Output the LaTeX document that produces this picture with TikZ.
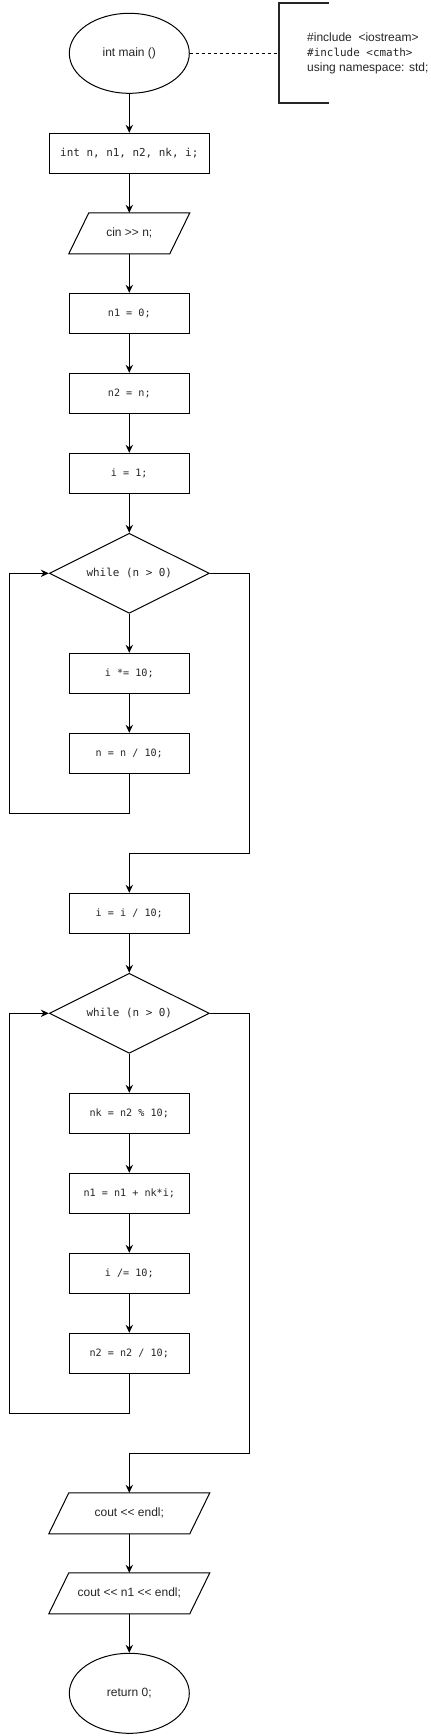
\documentclass[tikz,border=0pt]{standalone}
\usepackage{fontspec}
\setmainfont{Liberation Sans}
\newfontfamily\codefont{DejaVu Sans Mono}
\usetikzlibrary{shapes.geometric,arrows.meta}
\begin{document}
\begin{tikzpicture}[x=0.75pt,y=-0.75pt,
  line width=0.75pt,
  txtcol/.style={text=black!85},
  proc/.style={draw, rectangle, minimum width=90pt, minimum height=30pt, inner sep=0pt, txtcol, font=\codefont\fontsize{7.6}{9}\selectfont},
  wideproc/.style={proc, minimum width=120pt, font=\codefont\fontsize{8.2}{10}\selectfont},
  term/.style={draw, ellipse, minimum width=90pt, minimum height=60pt, inner sep=0pt, txtcol, font=\fontsize{9}{11}\selectfont},
  decis/.style={draw, diamond, aspect=2, minimum width=120pt, minimum height=60pt, inner sep=0pt, txtcol, font=\codefont\fontsize{8.2}{10}\selectfont},
  iobox/.style={rectangle, minimum width=90pt, minimum height=30pt, inner sep=0pt, txtcol, font=\fontsize{9}{11}\selectfont},
  wideio/.style={iobox, minimum width=120pt},
  arr/.style={-{Stealth[length=6pt,width=5.5pt,inset=2pt]}},
]
\useasboundingbox (0,0) rectangle (431,1736);

% start and declarations
\node[term] (main) at (129.3,53.3) {int main ()};
\node[wideproc] (decl) at (129.3,153.3) {int n, n1, n2, nk, i;};
\node[iobox] (cin) at (129.3,233.3) {cin >{}> n;};
\draw ([xshift=15pt]cin.north west) -- (cin.north east) -- ([xshift=-15pt]cin.south east) -- (cin.south west) -- cycle;
\node[proc] (a1) at (129.3,313.3) {n1 = 0;};
\node[proc] (a2) at (129.3,393.3) {n2 = n;};
\node[proc] (a3) at (129.3,473.3) {i = 1;};

% first loop
\node[decis] (w1) at (129.3,573.3) {while (n > 0)};
\node[proc] (b1) at (129.3,673.3) {i *= 10;};
\node[proc] (b2) at (129.3,753.3) {n = n / 10;};
\coordinate (l1) at (9.3,813.3);
\coordinate (e1) at (249.3,853.3);
\node[proc] (c1) at (129.3,913.3) {i = i / 10;};

% second loop
\node[decis] (w2) at (129.3,1013.3) {while (n > 0)};
\node[proc] (d1) at (129.3,1113.3) {nk = n2 \% 10;};
\node[proc] (d2) at (129.3,1193.3) {n1 = n1 + nk*i;};
\node[proc] (d3) at (129.3,1273.3) {i /= 10;};
\node[proc] (d4) at (129.3,1353.3) {n2 = n2 / 10;};
\coordinate (l2) at (9.3,1413.3);
\coordinate (e2) at (249.3,1453.3);

% output and end
\node[wideio] (o1) at (129.3,1513.3) {cout <{}< endl;};
\draw ([xshift=15pt]o1.north west) -- (o1.north east) -- ([xshift=-15pt]o1.south east) -- (o1.south west) -- cycle;
\node[wideio] (o2) at (129.3,1593.3) {cout <{}< n1 <{}< endl;};
\draw ([xshift=15pt]o2.north west) -- (o2.north east) -- ([xshift=-15pt]o2.south east) -- (o2.south west) -- cycle;
\node[term] (ret) at (129.3,1693.3) {return 0;};

% annotation
\coordinate (brk) at (279.3,53.3);
\coordinate (bt) at (329.3,3.3);
\coordinate (bb) at (329.3,103.3);
\draw[line width=1.5pt, black!85] (bt) -| (279.3,103.3) -- (bb);
\draw[dash pattern=on 2.4pt off 2.1pt] (main.east) -- (brk);
\node[anchor=west, align=left, inner sep=0pt, txtcol, font=\fontsize{9}{11}\selectfont] (inc) at (306.7,53.3)
  {\#include\ \ <iostream>\\{\codefont\fontsize{8.2}{11}\selectfont \#include <cmath>}\\using namespace: std;};

% connectors
\draw[arr] (main) -- (decl);
\draw[arr] (decl) -- (cin);
\draw[arr] (cin) -- (a1);
\draw[arr] (a1) -- (a2);
\draw[arr] (a2) -- (a3);
\draw[arr] (a3) -- (w1);
\draw[arr] (w1) -- (b1);
\draw[arr] (b1) -- (b2);
\draw[arr] (b2.south) |- (l1) |- (w1.west);
\draw[arr] (w1.east) -| (e1) -| (c1.north);
\draw[arr] (c1) -- (w2);
\draw[arr] (w2) -- (d1);
\draw[arr] (d1) -- (d2);
\draw[arr] (d2) -- (d3);
\draw[arr] (d3) -- (d4);
\draw[arr] (d4.south) |- (l2) |- (w2.west);
\draw[arr] (w2.east) -| (e2) -| (o1.north);
\draw[arr] (o1) -- (o2);
\draw[arr] (o2) -- (ret);
\end{tikzpicture}
\end{document}
